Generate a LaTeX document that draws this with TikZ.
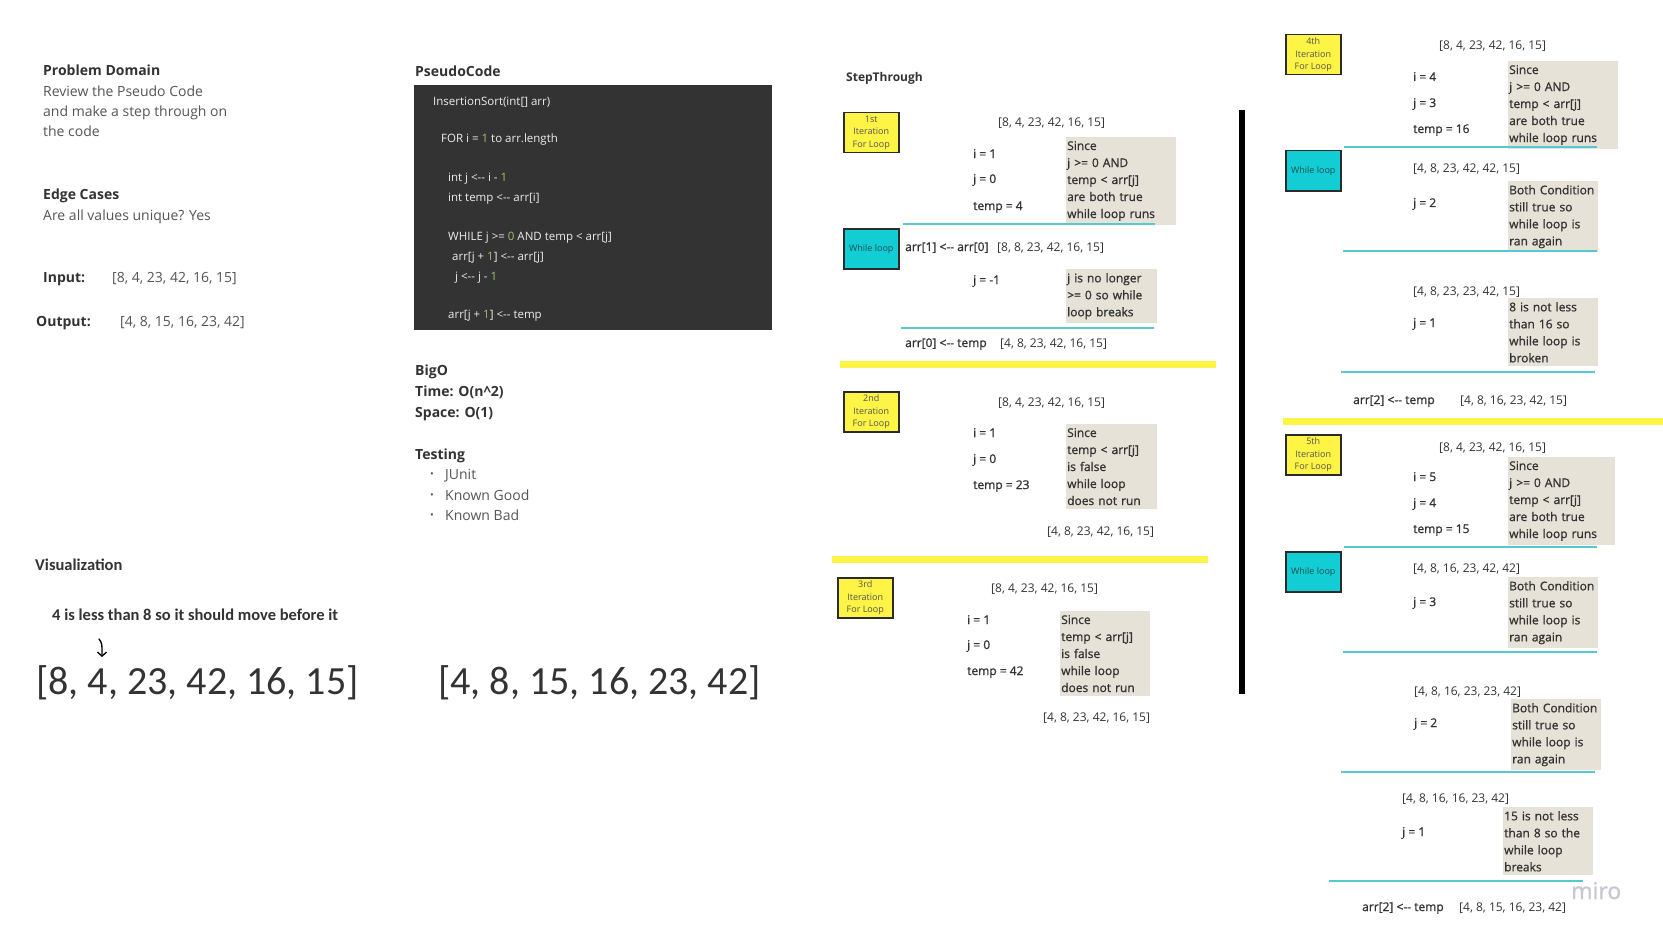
\documentclass[tikz,border=0pt]{standalone}
\usepackage{fontspec}
\setmainfont{Open Sans}
\newfontfamily\semifont[FakeBold=1]{Open Sans}
\newfontfamily\handfont{Carlito}
\usetikzlibrary{arrows.meta}

\definecolor{stickyyellow}{HTML}{FEF445}
\definecolor{stickycyan}{HTML}{12CDD4}
\definecolor{notebg}{HTML}{E7E2D8}
\definecolor{rulecyan}{HTML}{55C8D2}
\definecolor{codebg}{HTML}{333333}
\definecolor{codetext}{HTML}{EDEDED}
\definecolor{codegreen}{HTML}{9CC46E}
\definecolor{inktext}{HTML}{333333}
\definecolor{softtext}{HTML}{555555}
\definecolor{boxedge}{HTML}{2B2B2B}
\definecolor{loopink}{HTML}{1F4E52}
\definecolor{watermark}{HTML}{C7C7D1}

\newcommand\assignarrow{<-{}-}

\tikzset{
  heading/.style={anchor=base west, inner sep=0pt, text=inktext, font=\bfseries\fontsize{14}{17}\selectfont},
  bodytext/.style={anchor=base west, inner sep=0pt, text=softtext, font=\fontsize{14}{17}\selectfont},
  smallhead/.style={anchor=base west, inner sep=0pt, text=inktext, font=\bfseries\fontsize{12}{15}\selectfont},
  valtext/.style={anchor=base west, inner sep=0pt, text=inktext, font=\semifont\fontsize{12}{15}\selectfont},
  arrtext/.style={anchor=base west, inner sep=0pt, text=inktext, font=\fontsize{12}{15}\selectfont},
  codeline/.style={anchor=base west, inner sep=0pt, text=codetext, font=\fontsize{11.5}{13}\selectfont},
  notebox/.style={anchor=north west, fill=notebg, inner xsep=1pt, inner ysep=4pt, align=left, text=inktext, font=\semifont\fontsize{12}{17}\selectfont},
  iterbox/.style={anchor=north west, draw=boxedge, line width=1.5pt, fill=stickyyellow, minimum width=55pt, minimum height=40pt, inner sep=0pt, align=center, text=softtext, font=\fontsize{9}{12.5}\selectfont},
  loopbox/.style={iterbox, fill=stickycyan, text=loopink},
  cyanrule/.style={draw=rulecyan, line width=2pt},
  yellowbar/.style={draw=stickyyellow, line width=7pt},
  vizlabel/.style={anchor=base west, inner sep=0pt, text=inktext, font=\handfont\bfseries\fontsize{16.5}{19}\selectfont},
  bigarr/.style={anchor=base west, inner sep=0pt, text=inktext, font=\handfont\fontsize{40}{46}\selectfont},
}

\begin{document}
\begin{tikzpicture}[x=1pt,y=-1pt]
\useasboundingbox (0,0) rectangle (1663,939);
\fill[white] (0,0) rectangle (1663,939);

\node[heading] (pdhead) at (43,76) {Problem Domain};
\node[bodytext] (pd1) at (43,97) {Review the Pseudo Code};
\node[bodytext] (pd2) at (43,117) {and make a step through on};
\node[bodytext] (pd3) at (43,137) {the code};
\node[heading] (edgehead) at (43,199) {Edge Cases};
\node[bodytext] (edge1) at (43,220) {Are all values unique? Yes};
\node[heading] (inhead) at (43,282) {Input:};
\node[bodytext] (inval) at (112,282) {[8, 4, 23, 42, 16, 15]};
\node[heading] (outhead) at (36,326) {Output:};
\node[bodytext] (outval) at (120,326) {[4, 8, 15, 16, 23, 42]};

\node[heading] (codehead) at (415,77) {PseudoCode};
\node[fill=codebg, anchor=north west, minimum width=358pt, minimum height=245pt, inner sep=0pt] (codebox) at (414,85) {};
\node[codeline] (c1) at (433,106) {InsertionSort(int[] arr)};
\node[codeline] (c2) at (441,143) {FOR i = \textcolor{codegreen}{1} to arr.length};
\node[codeline] (c3) at (448,182) {int j \assignarrow{} i - \textcolor{codegreen}{1}};
\node[codeline] (c4) at (448,201) {int temp \assignarrow{} arr[i]};
\node[codeline] (c5) at (448,240) {WHILE j >= \textcolor{codegreen}{0} AND temp < arr[j]};
\node[codeline] (c6) at (452,260) {arr[j + \textcolor{codegreen}{1}] \assignarrow{} arr[j]};
\node[codeline] (c7) at (455,280) {j \assignarrow{} j - \textcolor{codegreen}{1}};
\node[codeline] (c8) at (448,318) {arr[j + \textcolor{codegreen}{1}] \assignarrow{} temp};

\node[heading] (bigo) at (415,375) {BigO};
\node[heading] (bigtime) at (415,396) {Time: O(n\textasciicircum 2)};
\node[heading] (bigspace) at (415,417) {Space: O(1)};
\node[heading] (testhead) at (415,459) {Testing};
\node[bodytext, font=\fontsize{10}{10}\selectfont] (dot1) at (430,477) {•};
\node[bodytext, font=\fontsize{10}{10}\selectfont] (dot2) at (430,498) {•};
\node[bodytext, font=\fontsize{10}{10}\selectfont] (dot3) at (430,518) {•};
\node[bodytext] (test1) at (445,479) {JUnit};
\node[bodytext] (test2) at (445,500) {Known Good};
\node[bodytext] (test3) at (445,520) {Known Bad};

\node[vizlabel] (vizhead) at (35,570) {Visualization};
\node[vizlabel] (viznote) at (52,620) {4 is less than 8 so it should move before it};
\node[bigarr] (vizbefore) at (36,694) {[8, 4, 23, 42, 16, 15]};
\node[bigarr] (vizafter) at (438,694) {[4, 8, 15, 16, 23, 42]};
\coordinate (viztail) at (99,639);
\coordinate (viztip) at (102,657);
\draw[line width=1.3pt, line cap=round, -{Straight Barb[length=4pt,width=9pt]}] (viztail) .. controls (102,643) .. (viztip);

\node[smallhead] (stephead) at (846,82) {StepThrough};

\node[iterbox] (iter1) at (843,112) {1st\\Iteration\\For Loop};
\node[arrtext] (a1start) at (998,127) {[8, 4, 23, 42, 16, 15]};
\node[valtext] (a1i) at (973,158) {i = 1};
\node[valtext] (a1j) at (973,183) {j = 0};
\node[valtext] (a1t) at (973,210) {temp = 4};
\node[notebox, text width=108pt] (a1note) at (1066,137) {Since\\j >= 0 AND\\temp < arr[j]\\are both true\\while loop runs};
\draw[cyanrule] (903,224) -- (1155,224);
\node[loopbox] (loop1) at (843,228) {While loop};
\node[valtext] (a1move) at (905,251) {arr[1] \assignarrow{} arr[0]};
\node[arrtext] (a1moved) at (997,251) {[8, 8, 23, 42, 16, 15]};
\node[valtext] (a1jj) at (973,284) {j = -1};
\node[notebox, text width=89pt] (a1break) at (1066,269) {j is no longer\\>= 0 so while\\loop breaks};
\draw[cyanrule] (901,328) -- (1154,328);
\node[valtext] (a1put) at (905,347) {arr[0] \assignarrow{} temp};
\node[arrtext] (a1end) at (1000,347) {[4, 8, 23, 42, 16, 15]};
\draw[yellowbar] (840,364) -- (1216,364);

\node[iterbox] (iter2) at (843,391) {2nd\\Iteration\\For Loop};
\node[arrtext] (a2start) at (998,406) {[8, 4, 23, 42, 16, 15]};
\node[valtext] (a2i) at (973,437) {i = 1};
\node[valtext] (a2j) at (973,463) {j = 0};
\node[valtext] (a2t) at (973,489) {temp = 23};
\node[notebox, text width=89pt] (a2note) at (1066,424) {Since\\temp < arr[j]\\is false\\while loop\\does not run};
\node[arrtext] (a2end) at (1047,535) {[4, 8, 23, 42, 16, 15]};
\draw[yellowbar] (832,559) -- (1208,559);

\node[iterbox] (iter3) at (837,577) {3rd\\Iteration\\For Loop};
\node[arrtext] (a3start) at (991,592) {[8, 4, 23, 42, 16, 15]};
\node[valtext] (a3i) at (967,624) {i = 1};
\node[valtext] (a3j) at (967,649) {j = 0};
\node[valtext] (a3t) at (967,675) {temp = 42};
\node[notebox, text width=88pt] (a3note) at (1060,611) {Since\\temp < arr[j]\\is false\\while loop\\does not run};
\node[arrtext] (a3end) at (1043,721) {[4, 8, 23, 42, 16, 15]};

\draw[line width=6pt] (1242,110) -- (1242,694);

\node[iterbox] (iter4) at (1285,34) {4th\\Iteration\\For Loop};
\node[arrtext] (a4start) at (1439,50) {[8, 4, 23, 42, 16, 15]};
\node[valtext] (a4i) at (1413,81) {i = 4};
\node[valtext] (a4j) at (1413,107) {j = 3};
\node[valtext] (a4t) at (1413,133) {temp = 16};
\node[notebox, text width=108pt] (a4note) at (1508,61) {Since\\j >= 0 AND\\temp < arr[j]\\are both true\\while loop runs};
\draw[cyanrule] (1344,147) -- (1597,147);
\node[loopbox] (loop4) at (1285,150) {While loop};
\node[arrtext] (a4shift) at (1413,172) {[4, 8, 23, 42, 42, 15]};
\node[valtext] (a4jj) at (1413,207) {j = 2};
\node[notebox, text width=88pt] (a4again) at (1508,181) {Both Condition\\still true so\\while loop is\\ran again};
\draw[cyanrule] (1343,251) -- (1597,251);
\node[arrtext] (a4shiftb) at (1413,295) {[4, 8, 23, 23, 42, 15]};
\node[valtext] (a4jjj) at (1413,327) {j = 1};
\node[notebox, text width=88pt] (a4break) at (1508,298) {8 is not less\\than 16 so\\while loop is\\broken};
\draw[cyanrule] (1341,372) -- (1595,372);
\node[valtext] (a4put) at (1353,404) {arr[2] \assignarrow{} temp};
\node[arrtext] (a4end) at (1460,404) {[4, 8, 16, 23, 42, 15]};
\draw[yellowbar] (1283,421) -- (1663,421);

\node[iterbox] (iter5) at (1285,434) {5th\\Iteration\\For Loop};
\node[arrtext] (a5start) at (1439,451) {[8, 4, 23, 42, 16, 15]};
\node[valtext] (a5i) at (1413,481) {i = 5};
\node[valtext] (a5j) at (1413,507) {j = 4};
\node[valtext] (a5t) at (1413,533) {temp = 15};
\node[notebox, text width=105pt] (a5note) at (1508,457) {Since\\j >= 0 AND\\temp < arr[j]\\are both true\\while loop runs};
\draw[cyanrule] (1344,547) -- (1597,547);
\node[loopbox] (loop5) at (1285,551) {While loop};
\node[arrtext] (a5shift) at (1413,572) {[4, 8, 16, 23, 42, 42]};
\node[valtext] (a5jj) at (1413,606) {j = 3};
\node[notebox, text width=88pt] (a5again) at (1508,577) {Both Condition\\still true so\\while loop is\\ran again};
\draw[cyanrule] (1343,652) -- (1597,652);
\node[arrtext] (a5shiftb) at (1414,695) {[4, 8, 16, 23, 23, 42]};
\node[valtext] (a5jjj) at (1414,727) {j = 2};
\node[notebox, text width=88pt] (a5againb) at (1511,699) {Both Condition\\still true so\\while loop is\\ran again};
\draw[cyanrule] (1341,772) -- (1595,772);
\node[arrtext] (a5shiftc) at (1402,802) {[4, 8, 16, 16, 23, 42]};
\node[valtext] (a5jjjj) at (1402,836) {j = 1};
\node[notebox, text width=88pt] (a5break) at (1503,807) {15 is not less\\than 8 so the\\while loop\\breaks};
\draw[cyanrule] (1329,881) -- (1583,881);
\node[anchor=base west, inner sep=0pt, text=watermark, font=\semifont\fontsize{23}{26}\selectfont] (miro) at (1571,899) {miro};
\node[valtext] (a5put) at (1362,911) {arr[2] \assignarrow{} temp};
\node[arrtext] (a5end) at (1459,911) {[4, 8, 15, 16, 23, 42]};
\end{tikzpicture}
\end{document}
